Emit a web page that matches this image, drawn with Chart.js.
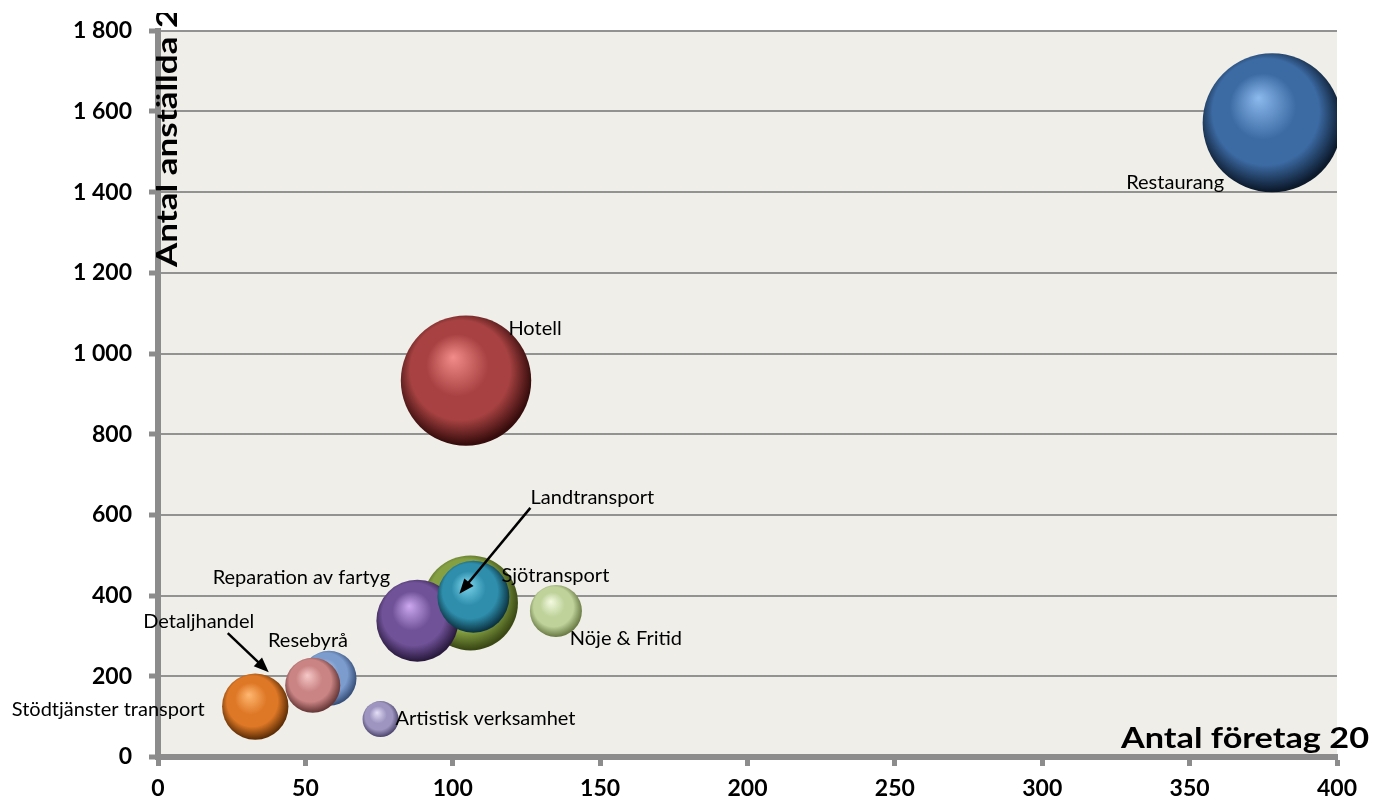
<!DOCTYPE html>
<html>
<head>
<meta charset="utf-8">
<script src="https://cdn.jsdelivr.net/npm/chart.js@4/dist/chart.umd.min.js"></script>
<style>
  html, body { margin: 0; padding: 0; background: #fff; }
  canvas { display: block; }
</style>
</head>
<body>
<canvas id="myChart" width="1374" height="802"></canvas>
<script>
// data
const branscher = ['Restaurang', 'Hotell', 'Sjötransport', 'Reparation av fartyg', 'Landtransport',
    'Stödtjänster transport', 'Resebyrå', 'Detaljhandel', 'Nöje & Fritid', 'Artistisk verksamhet'];
const antalForetag = [378, 104.5, 106, 88, 107, 33, 58, 52.5, 135, 75.5];
const antalAnstallda = [1572, 933, 382, 338, 397, 125, 195, 178, 362, 94];
const bubbelStorlek = [1000, 880, 467, 348, 268, 228, 157, 157, 140, 67];

const xTicks = [0, 50, 100, 150, 200, 250, 300, 350, 400];
const yTicks = [0, 200, 400, 600, 800, 1000, 1200, 1400, 1600, 1800];

// colours: highlight, base, dark edge
const colors = [
    ['#8cbaee', '#3c6ba4', '#0c1a2c'],
    ['#f28c8a', '#a84242', '#360c0c'],
    ['#b8d478', '#84a042', '#3a4814'],
    ['#cca8f0', '#705298', '#2a1a3e'],
    ['#80d8f0', '#2e8eac', '#0c3442'],
    ['#ffb872', '#de7826', '#5e2e06'],
    ['#bed4f4', '#7c9cce', '#38507a'],
    ['#f6c8c8', '#ca8484', '#683838'],
    ['#f4fae0', '#bed29a', '#6c7c46'],
    ['#e4def6', '#9e96c0', '#504870']
];

// label placement relative to bubble centre (px), optional arrow [x1,y1,x2,y2]
const labelPos = [
    { dx: -97, dy: 60 },
    { dx: 69, dy: -52 },
    { dx: 85, dy: -27 },
    { dx: -116, dy: -43 },
    { dx: 119, dy: -99, arrow: [57, -89, -14, -3] },
    { dx: -147, dy: 3 },
    { dx: -21, dy: -38 },
    { dx: -114, dy: -64, arrow: [-85, -52, -44, -13] },
    { dx: 70, dy: 28 },
    { dx: 105, dy: -1 }
];

const maxStorlek = Math.max(...bubbelStorlek);
const maxRadius = 69.5;

// keep the plot area where the axes put it, bubbles are clipped instead
Chart.BubbleController.prototype.getMaxOverflow = function () { return 0; };

function sphere(context, i) {
    const chart = context.chart;
    const xs = chart.scales.x, ys = chart.scales.y;
    const raw = context.raw;
    if (!xs || !ys || !raw) return colors[i][1];
    const cx = xs.getPixelForValue(raw.x);
    const cy = ys.getPixelForValue(raw.y);
    const r = raw.r;
    if (!isFinite(cx) || !isFinite(cy) || !isFinite(r) || r <= 0) return colors[i][1];
    const ctx = chart.ctx;
    const g = ctx.createRadialGradient(cx - r * 0.2, cy - r * 0.36, 0, cx - r * 0.05, cy - r * 0.08, r * 1.06);
    g.addColorStop(0, colors[i][0]);
    g.addColorStop(0.45, colors[i][1]);
    g.addColorStop(0.72, colors[i][1]);
    g.addColorStop(1, colors[i][2]);
    return g;
}

// later series are drawn on top, as in the original
const datasets = branscher.map((name, i) => ({
    label: name,
    data: [{
        x: antalForetag[i],
        y: antalAnstallda[i],
        r: maxRadius * Math.sqrt(bubbelStorlek[i] / maxStorlek)
    }],
    backgroundColor: (c) => sphere(c, i),
    borderWidth: 0,
    clip: 0,
    order: branscher.length - i
}));

const plotBackground = {
    id: 'plotBackground',
    beforeDraw(chart) {
        const { ctx, chartArea: a } = chart;
        ctx.save();
        ctx.fillStyle = '#efeee8';
        ctx.fillRect(a.left, a.top, a.right - a.left, a.bottom - a.top);
        ctx.restore();
    }
};

function drawArrow(ctx, x1, y1, x2, y2) {
    const ang = Math.atan2(y2 - y1, x2 - x1);
    const len = 15, w = 6;
    ctx.beginPath();
    ctx.moveTo(x1, y1);
    ctx.lineTo(x2 - Math.cos(ang) * len * 0.8, y2 - Math.sin(ang) * len * 0.8);
    ctx.lineWidth = 2.5;
    ctx.strokeStyle = '#000';
    ctx.stroke();
    ctx.beginPath();
    ctx.moveTo(x2, y2);
    ctx.lineTo(x2 - Math.cos(ang) * len - Math.sin(ang) * w, y2 - Math.sin(ang) * len + Math.cos(ang) * w);
    ctx.lineTo(x2 - Math.cos(ang) * len + Math.sin(ang) * w, y2 - Math.sin(ang) * len - Math.cos(ang) * w);
    ctx.closePath();
    ctx.fillStyle = '#000';
    ctx.fill();
}

const bubbleLabels = {
    id: 'bubbleLabels',
    afterDatasetsDraw(chart) {
        const ctx = chart.ctx;
        const xs = chart.scales.x, ys = chart.scales.y;
        ctx.save();
        ctx.font = '20px Lato';
        ctx.fillStyle = '#000';
        ctx.textAlign = 'center';
        ctx.textBaseline = 'middle';
        branscher.forEach((name, i) => {
            const cx = xs.getPixelForValue(antalForetag[i]);
            const cy = ys.getPixelForValue(antalAnstallda[i]);
            const p = labelPos[i];
            ctx.fillText(name, cx + p.dx, cy + p.dy);
            if (p.arrow) {
                drawArrow(ctx, cx + p.arrow[0], cy + p.arrow[1], cx + p.arrow[2], cy + p.arrow[3]);
            }
        });
        ctx.restore();
    },
    afterDraw(chart) {
        const ctx = chart.ctx;
        ctx.save();
        ctx.fillStyle = '#000';
        ctx.font = 'bold 28px Lato';
        ctx.textAlign = 'left';
        ctx.textBaseline = 'alphabetic';
        const xt = 'Antal företag 20';
        const sx = 248 / ctx.measureText(xt).width;
        ctx.translate(1121, 748);
        ctx.scale(sx, 1);
        ctx.fillText(xt, 0, 0);
        ctx.restore();

        ctx.save();
        ctx.fillStyle = '#000';
        ctx.font = 'bold 28px Lato';
        ctx.textBaseline = 'alphabetic';
        ctx.beginPath();
        ctx.rect(0, 13, 400, 400);
        ctx.clip();
        ctx.translate(177, 267);
        ctx.rotate(-Math.PI / 2);
        ctx.scale(1.25, 1);
        ctx.fillText('Antal anställda 2', 0, 0);
        ctx.restore();
    }
};

function spaced(v) {
    return String(v).replace(/\B(?=(\d{3})+(?!\d))/g, ' ');
}

const config = {
    type: 'bubble',
    data: { datasets: datasets },
    options: {
        responsive: false,
        animation: false,
        events: [],
        layout: { padding: { left: 0, top: 27, right: 37, bottom: 0 } },
        plugins: {
            legend: { display: false },
            tooltip: { enabled: false }
        },
        scales: {
            x: {
                type: 'linear',
                position: 'bottom',
                min: 0,
                max: 400,
                afterBuildTicks: (s) => { s.ticks = xTicks.map(v => ({ value: v })); },
                afterFit: (s) => { s.height = 45; },
                ticks: {
                    color: '#000',
                    font: { family: 'Lato', size: 23, weight: 'bold' },
                    padding: 9,
                    maxRotation: 0
                },
                grid: {
                    drawOnChartArea: false,
                    drawTicks: true,
                    tickLength: 9,
                    tickWidth: 5,
                    tickColor: '#8c8c8c'
                },
                border: { color: '#8c8c8c', width: 6 }
            },
            y: {
                min: 0,
                max: 1800,
                afterBuildTicks: (s) => { s.ticks = yTicks.map(v => ({ value: v })); },
                afterFit: (s) => { s.width = 158; },
                ticks: {
                    color: '#000',
                    font: { family: 'Lato', size: 23, weight: 'bold' },
                    padding: 17,
                    callback: (v) => spaced(v)
                },
                grid: {
                    color: '#929292',
                    lineWidth: 2,
                    tickLength: 9,
                    tickWidth: 5,
                    tickColor: '#8c8c8c'
                },
                border: { color: '#8c8c8c', width: 6 }
            }
        }
    },
    plugins: [plotBackground, bubbleLabels]
};

const myChart = new Chart('myChart', config);
</script>
</body>
</html>
